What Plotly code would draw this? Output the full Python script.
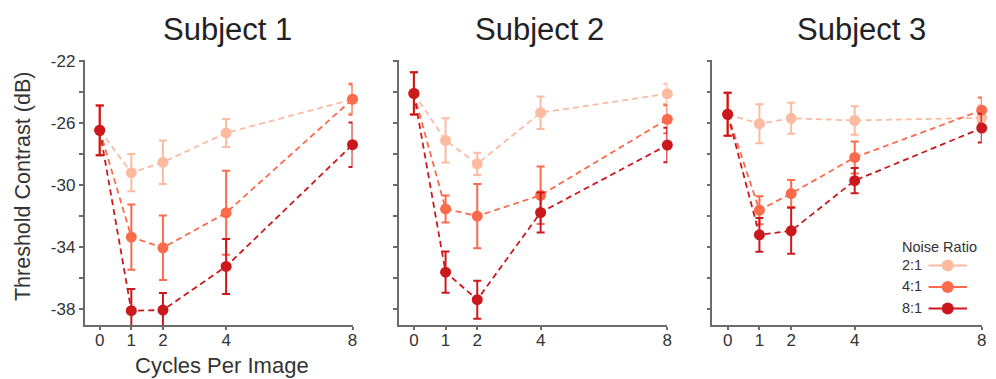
import plotly.graph_objects as go

# Spatial frequencies tested (cycles per image)
cycles = [0, 1, 2, 4, 8]
ratios = ["2:1", "4:1", "8:1"]
colors = {"2:1": "#fcbba1", "4:1": "#fb6a4a", "8:1": "#cb181d"}
subjects = ["Subject 1", "Subject 2", "Subject 3"]

# Threshold contrast (dB) and error half-widths, per subject and noise ratio
s1_2 = [-26.47, -29.2, -28.53, -26.64, -24.48]
s1_2_err = [1.6, 1.2, 1.4, 0.9, 0.9]
s1_4 = [-26.47, -33.34, -34.03, -31.78, -24.47]
s1_4_err = [1.6, 2.1, 2.07, 2.7, 1.0]
s1_8 = [-26.47, -38.08, -38.04, -35.23, -27.4]
s1_8_err = [1.6, 1.4, 1.1, 1.77, 1.43]

s2_2 = [-24.1, -27.12, -28.63, -25.34, -24.12]
s2_2_err = [1.36, 1.43, 0.72, 1.04, 0.65]
s2_4 = [-24.1, -31.53, -31.99, -30.65, -25.76]
s2_4_err = [1.36, 0.87, 2.07, 1.85, 0.9]
s2_8 = [-24.1, -35.6, -37.37, -31.76, -27.42]
s2_8_err = [1.36, 1.33, 1.22, 1.29, 1.11]

s3_2 = [-25.44, -26.05, -25.7, -25.84, -25.67]
s3_2_err = [1.38, 1.25, 1.0, 0.92, 0.8]
s3_4 = [-25.44, -31.61, -30.54, -28.22, -25.18]
s3_4_err = [1.38, 0.9, 0.87, 1.03, 0.82]
s3_8 = [-25.44, -33.2, -32.94, -29.71, -26.33]
s3_8_err = [1.38, 1.08, 1.48, 0.82, 0.92]

data = [
    {"2:1": (s1_2, s1_2_err), "4:1": (s1_4, s1_4_err), "8:1": (s1_8, s1_8_err)},
    {"2:1": (s2_2, s2_2_err), "4:1": (s2_4, s2_4_err), "8:1": (s2_8, s2_8_err)},
    {"2:1": (s3_2, s3_2_err), "4:1": (s3_4, s3_4_err), "8:1": (s3_8, s3_8_err)},
]

y_ticks = [-38, -34, -30, -26, -22]
x_ticks = [0, 1, 2, 4, 8]

FONT = "Liberation Sans, Arial, Helvetica, sans-serif"
TEXT = "#333333"
AXIS = "#6b6b6b"

W, H = 996, 379
def px(x):
    return x / W
def py(y):
    return 1 - y / H

x_domains = [(85, 354.3), (400.7, 670.7), (716, 986.7)]
y_domain = [py(324), py(53)]

fig = go.Figure()

for i, subj in enumerate(data):
    ax = "" if i == 0 else str(i + 1)
    for r in ratios:
        vals, err = subj[r]
        fig.add_trace(go.Scatter(
            x=cycles, y=vals,
            mode="lines+markers",
            line=dict(color=colors[r], width=1.8, dash="6px,4px"),
            marker=dict(color=colors[r], size=11),
            error_y=dict(type="data", array=err, color=colors[r],
                         thickness=2, width=4),
            cliponaxis=False,
            showlegend=False,
            xaxis="x" + ax, yaxis="y" + ax,
        ))

    common_axis = dict(
        showgrid=False, zeroline=False, showline=True,
        linecolor=AXIS, linewidth=1.5, ticks="outside",
        tickcolor=AXIS, tickwidth=1.5,
        tickfont=dict(family=FONT, size=17, color=TEXT),
    )
    fig.update_layout(**{
        "xaxis" + ax: dict(
            domain=[px(x_domains[i][0]), px(x_domains[i][1])],
            range=[-0.48, 8.0], tickvals=x_ticks, ticklen=3,
            ticklabelstandoff=-4,
            anchor="y" + ax, **common_axis,
        ),
        "yaxis" + ax: dict(
            domain=y_domain, range=[-39.01, -21.94],
            tickvals=y_ticks, ticklen=4,
            ticktext=[str(v) if i == 0 else "" for v in y_ticks],
            minor=dict(dtick=2, tick0=-22, ticks="outside", ticklen=4,
                       tickcolor=AXIS, tickwidth=1.5),
            anchor="x" + ax, **common_axis,
        ),
    })

# Legend: label on the left, line+marker swatch on the right
fig.update_layout(
    xaxis4=dict(domain=[px(933), px(972)], range=[0, 1], visible=False,
                anchor="y4", fixedrange=True),
    yaxis4=dict(domain=[py(317.9), py(252.1)], range=[2.5, -0.5],
                visible=False, anchor="x4", fixedrange=True),
)
for k, r in enumerate(ratios):
    fig.add_trace(go.Scatter(
        x=[0, 0.5, 1], y=[k, k, k], mode="lines",
        line=dict(color=colors[r], width=2), showlegend=False,
        hoverinfo="skip", xaxis="x4", yaxis="y4", cliponaxis=False,
    ))
    fig.add_trace(go.Scatter(
        x=[0.5], y=[k], mode="markers",
        marker=dict(color=colors[r], size=12), showlegend=False,
        hoverinfo="skip", xaxis="x4", yaxis="y4", cliponaxis=False,
    ))

annotations = []
title_x = [229, 542, 865.5]
for i, name in enumerate(subjects):
    annotations.append(dict(
        text=name, x=px(title_x[i]), y=py(22), xref="paper", yref="paper",
        xanchor="center", yanchor="middle", showarrow=False,
        font=dict(family=FONT, size=31, color="#222222"),
    ))
annotations.append(dict(
    text="Threshold Contrast (dB)", x=px(23), y=py(182), xref="paper",
    yref="paper", textangle=-90, xanchor="center", yanchor="middle",
    showarrow=False, font=dict(family=FONT, size=21.5, color=TEXT),
))
annotations.append(dict(
    text="Cycles Per Image", x=px(223.5), y=py(365), xref="paper",
    yref="paper", xanchor="center", yanchor="middle", showarrow=False,
    font=dict(family=FONT, size=22, color=TEXT),
))
annotations.append(dict(
    text="Noise Ratio", x=px(905), y=py(244), xref="paper", yref="paper",
    xanchor="left", yanchor="middle", showarrow=False,
    font=dict(family=FONT, size=14.5, color=TEXT),
))
for k, r in enumerate(ratios):
    annotations.append(dict(
        text=r, x=px(905), y=py(262.3 + 22 * k), xref="paper",
        yref="paper", xanchor="left", yanchor="middle", showarrow=False,
        font=dict(family=FONT, size=14.5, color=TEXT),
    ))

fig.update_layout(
    width=W, height=H,
    margin=dict(l=0, r=0, t=0, b=0),
    paper_bgcolor="white", plot_bgcolor="white",
    annotations=annotations,
    showlegend=False,
)

fig.write_html("out.html")
